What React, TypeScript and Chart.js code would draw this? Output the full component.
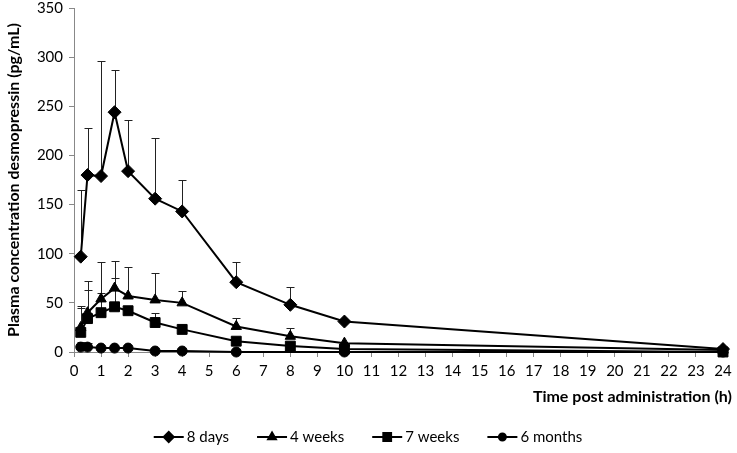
import React, { useEffect, useRef } from 'react';
import { Chart, registerables } from 'chart.js';
import { drawPoint } from 'chart.js/helpers';

Chart.register(...registerables);

// hours after dosing
const hours = [0.25, 0.5, 1, 1.5, 2, 3, 4, 6, 8, 10, 24];

// mean plasma levels (pg/mL)
const days8 = [97, 180, 179, 244, 184, 156, 143, 71, 48, 31, 3];
const weeks4 = [25, 40, 54, 65, 57, 53, 50, 26, 16, 9, 2];
const weeks7 = [20, 34, 40, 46, 42, 30, 23, 11, 6, 3, 0];
const months6 = [5, 5, 4, 4, 4, 1, 1, 0, null, 0, 0];

// upper SD (drawn only upwards)
const days8Sd = [68, 48, 117, 43, 52, 62, 32, 21, 18, null, null];
const weeks4Sd = [22, 32, 38, 28, 29, 27, 12, 9, 8, null, null];
const weeks7Sd = [25, 29, 20, 29, null, 10, null, null, null, null, null];
const months6Sd = [5, 4, null, null, null, null, null, null, null, null, null];

const seriesNames = ['8 days', '4 weeks', '7 weeks', '6 months'];
const seriesValues = [days8, weeks4, weeks7, months6];
const seriesSd = [days8Sd, weeks4Sd, weeks7Sd, months6Sd];
const markers = ['rectRot', 'triangle', 'rect', 'circle'];
const markerSizes = [6.5, 6, 7, 5];

const yTicks = [0, 50, 100, 150, 200, 250, 300, 350];
const xTitle = 'Time post administration (h)';
const yTitle = 'Plasma concentration desmopressin (pg/mL)';

const FONT = 'Lato, "Open Sans", sans-serif';

const errorBars = {
  id: 'errorBars',
  beforeDatasetsDraw(chart) {
    const { ctx, scales } = chart;
    ctx.save();
    ctx.strokeStyle = '#222';
    ctx.lineWidth = 1;
    seriesSd.forEach((sds, s) => {
      sds.forEach((sd, i) => {
        const v = seriesValues[s][i];
        if (sd == null || v == null) return;
        const x = Math.round(scales.x.getPixelForValue(hours[i])) + 0.5;
        const y0 = scales.y.getPixelForValue(v);
        const y1 = Math.round(scales.y.getPixelForValue(v + sd)) + 0.5;
        ctx.beginPath();
        ctx.moveTo(x, y0);
        ctx.lineTo(x, y1);
        ctx.moveTo(x - 4, y1);
        ctx.lineTo(x + 4, y1);
        ctx.stroke();
      });
    });
    ctx.restore();
  },
};

// x title sits flush right under the axis, legend draws line + marker
const extras = {
  id: 'extras',
  afterDraw(chart) {
    const { ctx, width } = chart;
    ctx.save();
    ctx.fillStyle = '#000';
    ctx.textBaseline = 'middle';
    ctx.textAlign = 'right';
    ctx.font = `bold 16px ${FONT}`;
    ctx.fillText(xTitle, width - 5, 397);

    ctx.textAlign = 'left';
    ctx.font = `15px ${FONT}`;
    const seg = 30;
    const gap = 28;
    const widths = seriesNames.map((n) => seg + 3 + ctx.measureText(n).width);
    const total = widths.reduce((a, b) => a + b, 0) + gap * (widths.length - 1);
    let x = 368 - total / 2;
    const y = 437;
    seriesNames.forEach((name, i) => {
      ctx.strokeStyle = '#000';
      ctx.fillStyle = '#000';
      ctx.lineWidth = 2;
      ctx.beginPath();
      ctx.moveTo(x, y);
      ctx.lineTo(x + seg, y);
      ctx.stroke();
      drawPoint(ctx, { pointStyle: markers[i], radius: markerSizes[i] - 1.5, borderWidth: 1 }, x + seg / 2, y);
      ctx.fillStyle = '#000';
      ctx.fillText(name, x + seg + 3, y);
      x += widths[i] + gap;
    });
    ctx.restore();
  },
};

const App = () => {
  const canvasRef = useRef(null);
  const chartRef = useRef(null);

  useEffect(() => {
    if (!canvasRef.current) return;

    const datasets = seriesNames.map((name, i) => ({
      label: name,
      data: hours.map((h, j) => ({ x: h, y: seriesValues[i][j] })),
      borderColor: '#000',
      backgroundColor: '#000',
      borderWidth: 2,
      pointStyle: markers[i],
      pointRadius: markerSizes[i],
      pointBorderWidth: 1,
      pointBackgroundColor: '#000',
      spanGaps: true,
      tension: 0,
      clip: false,
    }));

    if (chartRef.current) chartRef.current.destroy();

    chartRef.current = new Chart(canvasRef.current, {
      type: 'line',
      data: { datasets },
      options: {
        animation: false,
        responsive: true,
        maintainAspectRatio: false,
        layout: { padding: { left: 0, top: 0, right: 14, bottom: 47 } },
        plugins: {
          legend: { display: false },
          tooltip: { enabled: false },
        },
        scales: {
          x: {
            type: 'linear',
            min: 0,
            max: 24,
            afterFit: (scale) => {
              scale.height = 54;
            },
            ticks: {
              stepSize: 1,
              color: '#000',
              padding: 5,
              font: { family: FONT, size: 15 },
            },
            grid: {
              drawOnChartArea: false,
              drawTicks: true,
              tickLength: 5,
              color: '#888',
            },
            border: { color: '#888' },
          },
          y: {
            min: 0,
            max: 350,
            afterFit: (scale) => {
              scale.width = 74;
              scale.paddingTop = 0;
              scale.paddingBottom = 0;
            },
            afterBuildTicks: (scale) => {
              scale.ticks = yTicks.map((v) => ({ value: v }));
            },
            ticks: {
              color: '#000',
              padding: 6,
              font: { family: FONT, size: 15 },
            },
            grid: {
              drawOnChartArea: false,
              drawTicks: true,
              tickLength: 5,
              color: '#888',
            },
            border: { color: '#888' },
            title: {
              display: true,
              text: yTitle,
              color: '#000',
              padding: { top: 4, bottom: 0 },
              font: { family: FONT, size: 16, weight: 'bold' },
            },
          },
        },
      },
      plugins: [errorBars, extras],
    });

    return () => {
      if (chartRef.current) {
        chartRef.current.destroy();
        chartRef.current = null;
      }
    };
  }, []);

  return (
    <div style={{ position: 'fixed', left: 0, top: 0, width: 737, height: 453, background: '#fff' }}>
      <canvas ref={canvasRef} />
    </div>
  );
};

export default App;
